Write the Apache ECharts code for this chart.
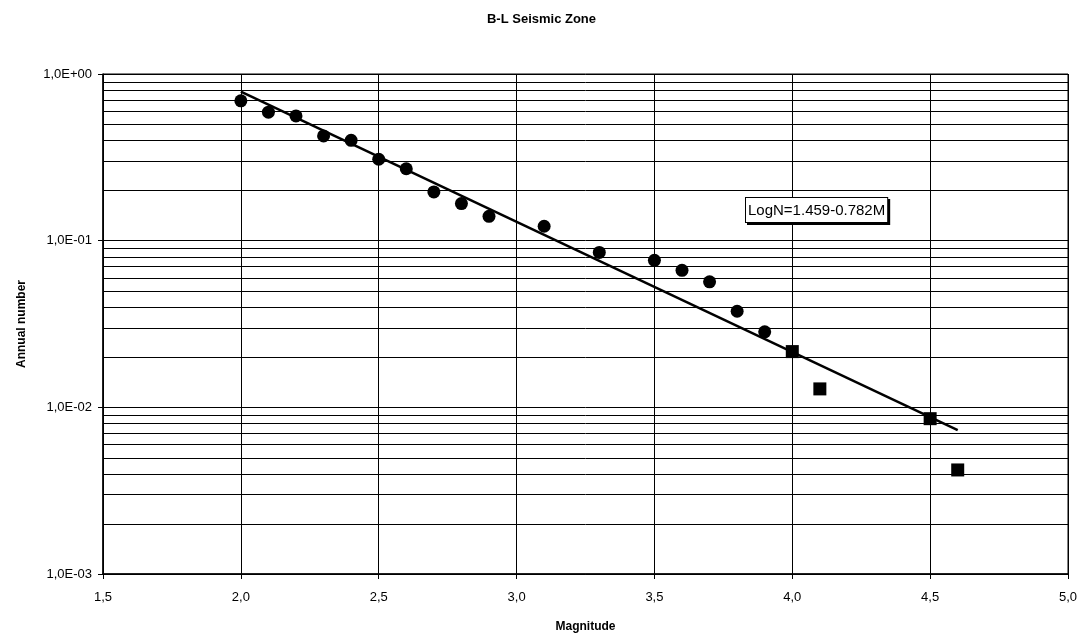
<!DOCTYPE html>
<html>
<head>
<meta charset="utf-8">
<script src="https://cdn.jsdelivr.net/npm/echarts@6/dist/echarts.min.js"></script>
<style>html,body{margin:0;padding:0;background:#fff}#c{width:1083px;height:638px}</style>
</head>
<body>
<div id="c"></div>
<script>
// Data
const circleMag = [2.0, 2.1, 2.2, 2.3, 2.4, 2.5, 2.6, 2.7, 2.8, 2.9, 3.1, 3.3, 3.5, 3.6, 3.7, 3.8, 3.9];
const circleN = [0.69, 0.59, 0.56, 0.425, 0.40, 0.308, 0.27, 0.196, 0.167, 0.14, 0.122, 0.085, 0.0762, 0.0664, 0.0566, 0.0377, 0.0284];
const squareMag = [4.0, 4.1, 4.5, 4.6];
const squareN = [0.0216, 0.0129, 0.00855, 0.00421];
const fitMag = [2.0, 4.6];
const fitN = [0.785, 0.0073];
const fitLabel = 'LogN=1.459-0.782M';
const minorGridValues = [0.002, 0.003, 0.004, 0.005, 0.006, 0.007, 0.008, 0.009,
  0.02, 0.03, 0.04, 0.05, 0.06, 0.07, 0.08, 0.09,
  0.2, 0.3, 0.4, 0.5, 0.6, 0.7, 0.8, 0.9];

const zip = (a, b) => a.map((v, i) => [v, b[i]]);
const FONT = '"Liberation Sans", Arial, sans-serif';

function yFmt(v) {
  const e = Math.round(Math.log10(v));
  const m = v / Math.pow(10, e);
  const sign = e < 0 ? '-' : '+';
  const ae = Math.abs(e);
  return m.toFixed(1).replace('.', ',') + 'E' + sign + (ae < 10 ? '0' : '') + ae;
}

const chart = echarts.init(document.getElementById('c'), null, {renderer: 'canvas'});
chart.setOption({
  animation: false,
  backgroundColor: '#fff',
  title: {
    text: 'B-L Seismic Zone',
    left: 'center',
    top: 8,
    textStyle: {fontFamily: FONT, fontSize: 13, fontWeight: 'bold', color: '#000'}
  },
  grid: {left: 103, right: 15, top: 74, bottom: 63, show: true, borderColor: '#000', borderWidth: 1},
  xAxis: {
    type: 'value', min: 1.5, max: 5.0, interval: 0.5,
    name: 'Magnitude', nameLocation: 'middle', nameGap: 47,
    nameTextStyle: {fontFamily: FONT, fontSize: 12, fontWeight: 'bold', color: '#000'},
    axisLine: {lineStyle: {color: '#000', width: 1.5}},
    axisTick: {show: true, inside: false, length: 5, lineStyle: {color: '#000'}},
    axisLabel: {fontFamily: FONT, fontSize: 13, color: '#000', margin: 17,
      formatter: v => v.toFixed(1).replace('.', ',')},
    splitLine: {show: true, lineStyle: {color: '#000', width: 1}}
  },
  yAxis: {
    type: 'log', logBase: 10, min: 0.001, max: 1,
    name: 'Annual number', nameLocation: 'middle', nameGap: 75, nameRotate: 90,
    nameTextStyle: {fontFamily: FONT, fontSize: 12, fontWeight: 'bold', color: '#000'},
    axisLine: {lineStyle: {color: '#000', width: 1.5}},
    axisTick: {show: true, inside: false, length: 5, lineStyle: {color: '#000'}},
    axisLabel: {fontFamily: FONT, fontSize: 13, color: '#000', margin: 11, formatter: yFmt},
    splitLine: {show: true, lineStyle: {color: '#000', width: 1}}
  },
  series: [
    {
      type: 'custom', silent: true, z: 1,
      data: minorGridValues.map(v => [1.5, v]),
      renderItem: function (params, api) {
        const cs = params.coordSys;
        const y = Math.round(api.coord([api.value(0), api.value(1)])[1]) + 0.5;
        return {
          type: 'line',
          shape: {x1: cs.x, y1: y, x2: cs.x + cs.width, y2: y},
          style: {stroke: '#000', lineWidth: 1}
        };
      }
    },
    {
      type: 'line', data: zip(fitMag, fitN), symbol: 'none', silent: true,
      lineStyle: {color: '#000', width: 2.5}, z: 3
    },
    {
      type: 'scatter', data: zip(circleMag, circleN), symbol: 'circle', symbolSize: 13,
      itemStyle: {color: '#000', opacity: 1}, z: 4
    },
    {
      type: 'scatter', data: zip(squareMag, squareN), symbol: 'rect', symbolSize: 13,
      itemStyle: {color: '#000', opacity: 1}, z: 4
    }
  ],
  graphic: [{
    type: 'text', left: 745, top: 197, z: 10,
    style: {
      text: fitLabel, fontFamily: FONT, fontSize: 15, fill: '#000',
      backgroundColor: '#fff', borderColor: '#000', borderWidth: 1,
      padding: [5, 2, 4, 2],
      shadowColor: '#000', shadowOffsetX: 2, shadowOffsetY: 2, shadowBlur: 0
    }
  }]
});
</script>
</body>
</html>
